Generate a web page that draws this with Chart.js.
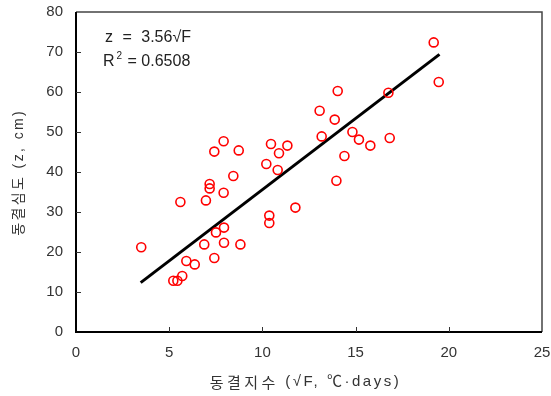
<!DOCTYPE html>
<html>
<head>
<meta charset="utf-8">
<script src="https://cdn.jsdelivr.net/npm/chart.js@4/dist/chart.umd.min.js"></script>
<style>
html,body{margin:0;padding:0;background:#fff;}
#wrap{width:551px;height:396px;position:relative;}
</style>
</head>
<body>
<div id="wrap"><canvas id="c" width="551" height="396"></canvas></div>
<script>
// Observed data: freezing index sqrt(F) vs frost depth z (cm)
const freezeIndex = [3.5, 5.22, 5.44, 5.7, 5.6, 5.92, 6.37, 6.88, 6.97, 7.17, 7.17, 7.42, 7.42, 7.51, 7.92, 7.92, 7.94, 7.94, 8.44, 8.73, 8.82, 10.21, 10.37, 10.37, 10.46, 10.82, 10.89, 11.34, 11.77, 13.07, 13.18, 13.88, 13.97, 14.04, 14.4, 14.83, 15.18, 15.79, 16.76, 16.83, 19.19, 19.46];
const frostDepth  = [21.2, 12.8, 12.8, 14.0, 32.5, 17.75, 16.9, 21.9, 32.9, 37.0, 35.9, 45.1, 18.5, 24.9, 47.7, 34.8, 26.1, 22.3, 39.0, 45.4, 21.9, 42.0, 29.1, 27.25, 47.0, 40.5, 44.7, 46.6, 31.1, 55.3, 48.9, 53.1, 37.8, 60.25, 44.0, 50.0, 48.1, 46.6, 59.8, 48.5, 72.4, 62.5];
// Regression line z = 3.56 sqrt(F), endpoints
const fitX = [3.47, 19.5];
const fitSlope = 3.56;
const xTicks = [0, 5, 10, 15, 20, 25];
const yTicks = [0, 10, 20, 30, 40, 50, 60, 70, 80];
const xTitleKo = '동결지수';
const xTitleUnit = '(√F, ℃·days)';
const yTitle = '동결심도 (z, cm)';
const eqLine1 = 'z = 3.56√F';
const eqR = 'R';
const eqSup = '2';
const eqR2rest = ' = 0.6508';

const scatterData = freezeIndex.map((x, i) => ({x: x, y: frostDepth[i]}));
const fitData = fitX.map(x => ({x: x, y: fitSlope * x}));

function spacedText(ctx, text, x, y, targetWidth) {
  ctx.letterSpacing = '0px';
  const w = ctx.measureText(text).width;
  const n = [...text].length;
  const ls = (targetWidth - w) / n;
  ctx.letterSpacing = ls.toFixed(2) + 'px';
  ctx.fillText(text, x + ls / 2, y);
  ctx.letterSpacing = '0px';
}

const decor = {
  id: 'decor',
  afterDraw(chart) {
    const ctx = chart.ctx;
    const a = chart.chartArea;
    const xs = chart.scales.x, ys = chart.scales.y;
    ctx.save();
    // frame top/right
    ctx.strokeStyle = '#444';
    ctx.lineWidth = 1.5;
    ctx.beginPath();
    ctx.moveTo(a.left, a.top); ctx.lineTo(a.right, a.top); ctx.lineTo(a.right, a.bottom);
    ctx.stroke();
    // left / bottom axes
    ctx.strokeStyle = '#000';
    ctx.lineWidth = 2;
    ctx.beginPath();
    ctx.moveTo(a.left, a.top); ctx.lineTo(a.left, a.bottom); ctx.lineTo(a.right, a.bottom);
    ctx.stroke();
    // inward ticks
    ctx.strokeStyle = '#333';
    ctx.lineWidth = 1;
    ctx.beginPath();
    xTicks.forEach(v => { const p = Math.round(xs.getPixelForValue(v)) + 0.5; if (v > 0 && v < 25) { ctx.moveTo(p, a.bottom); ctx.lineTo(p, a.bottom - 5); } });
    yTicks.forEach(v => { const p = Math.round(ys.getPixelForValue(v)) + 0.5; if (v > 0 && v < 80) { ctx.moveTo(a.left, p); ctx.lineTo(a.left + 5, p); } });
    ctx.stroke();
    // equation text
    ctx.fillStyle = '#222';
    ctx.textBaseline = 'middle';
    ctx.textAlign = 'left';
    ctx.font = '16px "Liberation Sans", Arial, sans-serif';
    ctx.wordSpacing = '5px';
    ctx.fillText(eqLine1, 105, 38);
    ctx.wordSpacing = '4px';
    ctx.fillText(eqR, 103, 62);
    const rw = ctx.measureText(eqR).width;
    ctx.font = '10px "Liberation Sans", Arial, sans-serif';
    ctx.fillText(eqSup, 103 + rw + 2, 56);
    const sw = ctx.measureText(eqSup).width;
    ctx.font = '16px "Liberation Sans", Arial, sans-serif';
    ctx.fillText(eqR2rest, 103 + rw + 2 + sw + 1, 62);
    ctx.wordSpacing = '0px';
    // axis titles
    ctx.fillStyle = '#333';
    ctx.textAlign = 'left';
    ctx.font = '15px "Noto Sans CJK KR", sans-serif';
    spacedText(ctx, xTitleKo, 208, 382, 69);
    ctx.font = '15px "Liberation Sans", "Noto Sans CJK KR", sans-serif';
    spacedText(ctx, xTitleUnit, 284, 382, 116);
    ctx.font = '14px "Liberation Sans", "Noto Sans CJK KR", sans-serif';
    ctx.translate(19, 237);
    ctx.rotate(-Math.PI / 2);
    spacedText(ctx, yTitle, 0, 0, 127);
    ctx.restore();
  }
};

new Chart(document.getElementById('c'), {
  type: 'scatter',
  data: {
    datasets: [
      {
        label: 'fit',
        type: 'line',
        data: fitData,
        borderColor: '#000',
        borderWidth: 3,
        pointRadius: 0,
        fill: false,
        order: 2
      },
      {
        label: 'obs',
        data: scatterData,
        pointStyle: 'circle',
        pointRadius: 4.5,
        pointBorderWidth: 1.6,
        pointBorderColor: '#ff0000',
        pointBackgroundColor: 'rgba(255,255,255,0)',
        order: 1
      }
    ]
  },
  plugins: [decor],
  options: {
    responsive: false,
    animation: false,
    layout: { padding: { top: 12, right: 9, left: 0, bottom: 0 } },
    plugins: { legend: { display: false }, tooltip: { enabled: false } },
    scales: {
      x: {
        type: 'linear', min: 0, max: 25,
        afterFit(s) { s.height = 64; s.paddingLeft = 0; s.paddingRight = 0; },
        afterBuildTicks(s) { s.ticks = xTicks.map(v => ({value: v})); },
        grid: { display: false, drawTicks: false },
        border: { display: false },
        ticks: { padding: 12, color: '#333', font: { family: '"Liberation Sans", Arial, sans-serif', size: 15 } }
      },
      y: {
        type: 'linear', min: 0, max: 80,
        afterFit(s) { s.width = 76; s.paddingTop = 0; s.paddingBottom = 0; },
        afterBuildTicks(s) { s.ticks = yTicks.map(v => ({value: v})); },
        grid: { display: false, drawTicks: false },
        border: { display: false },
        ticks: { padding: 13, color: '#333', font: { family: '"Liberation Sans", Arial, sans-serif', size: 15 } }
      }
    }
  }
});
</script>
</body>
</html>
